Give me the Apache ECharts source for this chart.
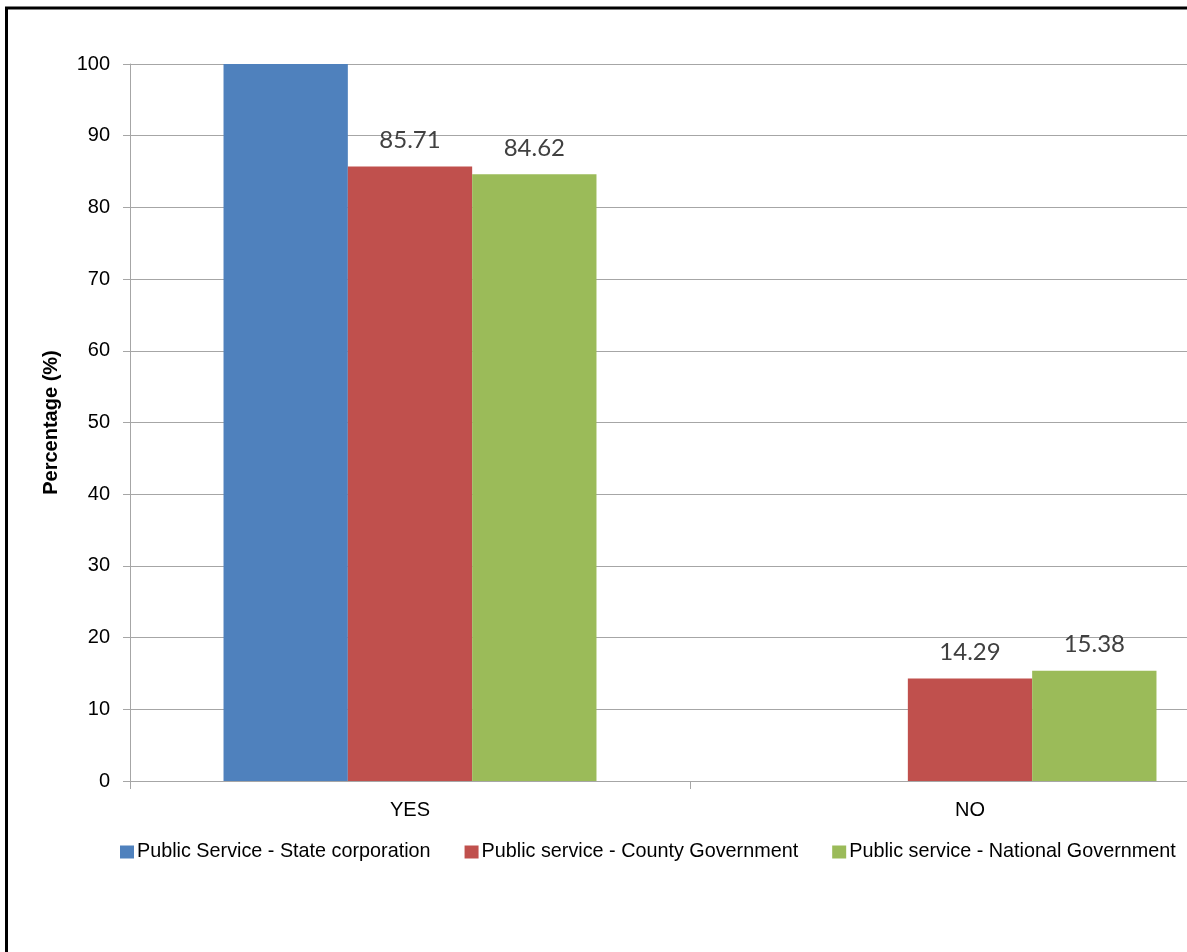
<!DOCTYPE html>
<html>
<head>
<meta charset="utf-8">
<script src="https://cdn.jsdelivr.net/npm/echarts@6/dist/echarts.min.js"></script>
<style>
  html, body { margin: 0; padding: 0; background: #ffffff; overflow: hidden; }
  #chart { width: 1250px; height: 952px; }
</style>
</head>
<body>
<div id="chart"></div>
<script>
const categories = ['YES', 'NO'];
const seriesNames = [
  'Public Service - State corporation',
  'Public service - County Government',
  'Public service - National Government'
];
const stateCorporation = [100, 0];
const countyGovernment = [85.71, 14.29];
const nationalGovernment = [84.62, 15.38];
const yTicks = { min: 0, max: 100, interval: 10 };

const sans = '"Liberation Sans", Arial, sans-serif';
const colors = ['#4F81BD', '#C0504D', '#9BBB59'];

const chart = echarts.init(document.getElementById('chart'), null, { renderer: 'canvas' });

const dataLabel = {
  show: true,
  position: 'top',
  distance: 14,
  fontFamily: 'Lato, "Open Sans", sans-serif',
  fontSize: 24,
  color: '#404040',
  formatter: (p) => p.value.toFixed(2)
};

chart.setOption({
  animation: false,
  backgroundColor: '#ffffff',
  color: colors,
  grid: { left: 130, right: 0, top: 64, bottom: 171, containLabel: false },
  legend: {
    left: 120,
    top: 842,
    padding: 0,
    itemWidth: 14,
    itemHeight: 13,
    itemGap: 34,
    icon: 'rect',
    textStyle: { fontFamily: sans, fontSize: 19.8, color: '#000000', padding: [0, 0, 0, -2] },
    data: seriesNames
  },
  xAxis: {
    type: 'category',
    data: categories,
    axisLine: { show: true, lineStyle: { color: '#A6A6A6', width: 1 } },
    axisTick: { show: true, length: 8, lineStyle: { color: '#A6A6A6' } },
    axisLabel: { fontFamily: sans, fontSize: 20, color: '#000000', margin: 19 },
    splitLine: { show: false }
  },
  yAxis: {
    type: 'value',
    min: yTicks.min,
    max: yTicks.max,
    interval: yTicks.interval,
    name: 'Percentage (%)',
    nameLocation: 'middle',
    nameRotate: 90,
    nameGap: 69,
    nameTextStyle: { fontFamily: sans, fontSize: 20, fontWeight: 'bold', color: '#000000' },
    axisLine: { show: true, lineStyle: { color: '#A6A6A6', width: 1 } },
    axisTick: { show: true, length: 7, lineStyle: { color: '#A6A6A6' } },
    axisLabel: { fontFamily: sans, fontSize: 20, color: '#000000', margin: 20 },
    splitLine: { show: true, lineStyle: { color: '#A6A6A6', width: 1 } }
  },
  series: [
    {
      name: seriesNames[0], type: 'bar', data: stateCorporation,
      barGap: '0%', barCategoryGap: '33.4%',
      itemStyle: { color: colors[0] }
    },
    {
      name: seriesNames[1], type: 'bar', data: countyGovernment,
      barGap: '0%', barCategoryGap: '33.4%',
      itemStyle: { color: colors[1] },
      label: dataLabel
    },
    {
      name: seriesNames[2], type: 'bar', data: nationalGovernment,
      barGap: '0%', barCategoryGap: '33.4%',
      itemStyle: { color: colors[2] },
      label: dataLabel
    }
  ],
  graphic: [
    {
      type: 'polyline',
      silent: true,
      shape: { points: [[6.5, 952], [6.5, 8], [1250, 8]] },
      style: { stroke: '#000000', lineWidth: 3, fill: null }
    }
  ]
});
</script>
</body>
</html>
